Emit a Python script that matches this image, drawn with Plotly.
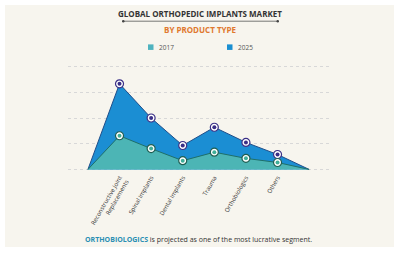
import plotly.graph_objects as go

categories = ["", "Reconstructive Joint<br>Replacements", "Spinal Implants", "Dental Implants",
              "Trauma", "Orthobiologics", "Others", " "]
values_2017 = [0, 1.31, 0.81, 0.34, 0.67, 0.43, 0.27, 0]
values_2025 = [0, 3.33, 2.00, 0.93, 1.64, 1.05, 0.58, 0]
grid_vals = [0, 1, 2, 3, 4]

W, H = 409, 253
PAD = 0.1
UNIT = 25.5
L, R = 68, 330
T = 67 - PAD * UNIT
B = 169 + PAD * UNIT
def px(x): return (x - L) / (R - L)
def py(y): return (B - y) / (B - T)

xs = list(range(len(categories)))
mid = xs[1:-1]

fig = go.Figure()
fig.add_trace(go.Scatter(x=xs, y=values_2025, mode="lines", fill="tozeroy",
                         fillcolor="#1b8ed3", line=dict(color="#1f4e8a", width=1),
                         showlegend=False, hoverinfo="skip"))
fig.add_trace(go.Scatter(x=xs, y=values_2017, mode="lines", fill="tozeroy",
                         fillcolor="#4cb5b5", line=dict(color="#1e6f6a", width=1),
                         showlegend=False, hoverinfo="skip"))
# markers 2025
fig.add_trace(go.Scatter(x=mid, y=values_2025[1:-1], mode="markers",
                         marker=dict(size=8, color="white", line=dict(color="#3a2f86", width=1.2)),
                         showlegend=False, hoverinfo="skip"))
fig.add_trace(go.Scatter(x=mid, y=values_2025[1:-1], mode="markers",
                         marker=dict(size=4, color="#3a2f86"),
                         showlegend=False, hoverinfo="skip"))
# markers 2017
fig.add_trace(go.Scatter(x=mid, y=values_2017[1:-1], mode="markers",
                         marker=dict(size=8, color="white", line=dict(color="#1d5e52", width=1.2)),
                         showlegend=False, hoverinfo="skip"))
fig.add_trace(go.Scatter(x=mid, y=values_2017[1:-1], mode="markers",
                         marker=dict(size=4, color="#3fae98"),
                         showlegend=False, hoverinfo="skip"))

font = "Open Sans"
shapes = [
    dict(type="rect", xref="paper", yref="paper", x0=px(5), x1=px(394), y0=py(246), y1=py(6),
         fillcolor="#f7f5ee", line=dict(width=0), layer="below"),
    dict(type="line", xref="paper", yref="paper", x0=px(123), x1=px(278), y0=py(22), y1=py(22),
         line=dict(color="#555555", width=0.8)),
    dict(type="circle", xref="paper", yref="paper", x0=px(122), x1=px(124.5), y0=py(23.2), y1=py(20.8),
         fillcolor="#444444", line=dict(width=0)),
    dict(type="circle", xref="paper", yref="paper", x0=px(276.5), x1=px(279), y0=py(23.2), y1=py(20.8),
         fillcolor="#444444", line=dict(width=0)),
    dict(type="rect", xref="paper", yref="paper", x0=px(148), x1=px(153.5), y0=py(50.5), y1=py(45),
         fillcolor="#4fb3bf", line=dict(width=0)),
    dict(type="rect", xref="paper", yref="paper", x0=px(227), x1=px(232.5), y0=py(50.5), y1=py(45),
         fillcolor="#1a8fd1", line=dict(width=0)),
]
annotations = [
    dict(text="<b>GLOBAL ORTHOPEDIC IMPLANTS MARKET</b>", x=px(200), y=py(14.5), xref="paper", yref="paper",
         showarrow=False, font=dict(family=font, size=8, color="#333333"), xanchor="center", yanchor="middle"),
    dict(text="<b>BY PRODUCT TYPE</b>", x=px(200), y=py(30.5), xref="paper", yref="paper",
         showarrow=False, font=dict(family=font, size=8, color="#e0782f"), xanchor="center", yanchor="middle"),
    dict(text="2017", x=px(157), y=py(48), xref="paper", yref="paper", showarrow=False,
         font=dict(family=font, size=6.5, color="#555555"), xanchor="left", yanchor="middle"),
    dict(text="2025", x=px(236), y=py(48), xref="paper", yref="paper", showarrow=False,
         font=dict(family=font, size=6.5, color="#555555"), xanchor="left", yanchor="middle"),
    dict(text="<b><span style='color:#2a8fb3'>ORTHOBIOLOGICS</span></b> is projected as one of the most lucrative segment.",
         x=px(198.5), y=py(238.5), xref="paper", yref="paper", showarrow=False,
         font=dict(family=font, size=7, color="#333333"), xanchor="center", yanchor="middle"),
]

fig.update_layout(
    width=W, height=H, margin=dict(l=L, r=W - R, t=T, b=H - B),
    paper_bgcolor="white", plot_bgcolor="rgba(0,0,0,0)",
    shapes=shapes, annotations=annotations, showlegend=False,
    xaxis=dict(range=[-0.63, 7.66], tickvals=xs, ticktext=categories, tickangle=-60,
               showgrid=False, zeroline=False, showline=False, ticks="",
               tickfont=dict(family=font, size=6, color="#333333")),
    yaxis=dict(range=[-PAD, 4 + PAD], tickvals=grid_vals, showticklabels=False, showgrid=True,
               gridcolor="#d8d8d8", griddash="dot", gridwidth=1, zeroline=False, ticks=""),
)
fig.write_html("out.html", config={"displayModeBar": False},
               post_script="document.body.style.margin='0';")
